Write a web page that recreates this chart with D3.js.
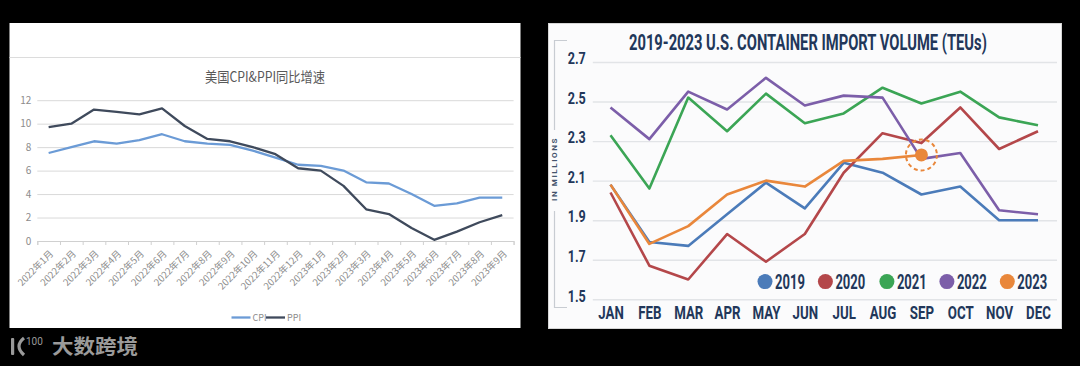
<!DOCTYPE html>
<meta charset="utf-8">
<title>CPI & PPI / Container import volume</title>
<style>
body { margin:0; background:#000; }
svg { display:block; }
.lefttxt { font-family: "Noto Sans CJK SC", "Noto Sans", sans-serif; fill:#8c8c8c; }
.righttxt { font-family: Roboto, "Liberation Sans", sans-serif; font-weight:700; fill:#22375a; }
</style>
<body>
<div id="container"></div>
<script src="https://cdn.jsdelivr.net/npm/d3@7"></script>
<script>
// ---- left chart data ----
var months = ["2022年1月","2022年2月","2022年3月","2022年4月","2022年5月","2022年6月",
  "2022年7月","2022年8月","2022年9月","2022年10月","2022年11月","2022年12月",
  "2023年1月","2023年2月","2023年3月","2023年4月","2023年5月","2023年6月",
  "2023年7月","2023年8月","2023年9月"];
var cpi = [7.5,8.0,8.5,8.3,8.6,9.1,8.5,8.3,8.2,7.7,7.1,6.5,6.4,6.0,5.0,4.9,4.0,3.0,3.2,3.7,3.7];
var ppi = [9.7,10.0,11.2,11.0,10.8,11.3,9.8,8.7,8.5,8.0,7.4,6.2,6.0,4.7,2.7,2.3,1.1,0.1,0.8,1.6,2.2];
var leftTicks = [0,2,4,6,8,10,12];

// ---- right chart data ----
var mon = ["JAN","FEB","MAR","APR","MAY","JUN","JUL","AUG","SEP","OCT","NOV","DEC"];
var years = ["2019","2020","2021","2022","2023"];
var v2019 = [2.08,1.79,1.77,1.93,2.09,1.96,2.19,2.14,2.03,2.07,1.90,1.90];
var v2020 = [2.04,1.67,1.60,1.83,1.69,1.83,2.14,2.34,2.29,2.47,2.26,2.35];
var v2021 = [2.33,2.06,2.52,2.35,2.54,2.39,2.44,2.57,2.49,2.55,2.42,2.38];
var v2022 = [2.47,2.31,2.55,2.46,2.62,2.48,2.53,2.52,2.21,2.24,1.95,1.93];
var v2023 = [2.08,1.78,1.87,2.03,2.10,2.07,2.20,2.21,2.23];
var rightTicks = [1.5,1.7,1.9,2.1,2.3,2.5,2.7];
var yearColors = ["#4b7bb9","#b4474a","#3ba555","#7c5ea9","#e9873b"];

var svg = d3.select("#container").append("svg")
    .attr("width", 1080).attr("height", 366);

// ================= LEFT PANEL =================
var L = svg.append("g");
L.append("rect").attr("x", 9.5).attr("y", 23).attr("width", 511).attr("height", 305).attr("fill", "#fff");
L.append("line").attr("x1", 9.5).attr("x2", 520.5).attr("y1", 57.5).attr("y2", 57.5)
  .attr("stroke", "#dcdcdc").attr("stroke-width", 1);

L.append("text").attr("class", "lefttxt")
  .attr("x", 265).attr("y", 81.5).attr("text-anchor", "middle")
  .attr("font-size", 14).style("fill", "#595959")
  .attr("textLength", 120).attr("lengthAdjust", "spacingAndGlyphs")
  .text("美国CPI&PPI同比增速");

var lx = d3.scaleBand().domain(months).range([37.3, 513.6]);
var ly = d3.scaleLinear().domain([0, 12]).range([241, 100.2]);

// gridlines + y labels
var lyAxis = L.append("g").attr("transform", "translate(37.3,0)")
  .call(d3.axisLeft(ly).tickValues(leftTicks).tickSize(-(513.6 - 37.3)).tickPadding(6));
lyAxis.select(".domain").remove();
lyAxis.selectAll("line").attr("stroke", "#d9d9d9");
lyAxis.selectAll("text").attr("class", "lefttxt").attr("font-size", 10).style("fill", "#8c8c8c");

// x axis: boundary ticks
var lidx = d3.scaleLinear().domain([0, months.length]).range([37.3, 513.6]);
var lxTicks = L.append("g").attr("transform", "translate(0,241)")
  .call(d3.axisBottom(lidx).tickValues(d3.range(months.length + 1)).tickSize(4).tickFormat(""));
lxTicks.selectAll("line,path").attr("stroke", "#d0d0d0");

var lxAxis = L.append("g").attr("transform", "translate(0,241)")
  .call(d3.axisBottom(lx).tickSize(0));
lxAxis.select(".domain").remove();
lxAxis.selectAll("text")
  .attr("class", "lefttxt").attr("font-size", 9.5).style("fill", "#8c8c8c")
  .attr("text-anchor", "end").attr("x", 0).attr("y", 0).attr("dy", "0.35em")
  .attr("transform", "translate(3,11) rotate(-45)");

var lline = d3.line().x(function(d, i) { return lx(months[i]) + lx.bandwidth() / 2; }).y(function(d) { return ly(d); });
L.append("path").datum(cpi).attr("d", lline).attr("fill", "none")
  .attr("stroke", "#6b9bd6").attr("stroke-width", 2.3).attr("stroke-linejoin", "round");
L.append("path").datum(ppi).attr("d", lline).attr("fill", "none")
  .attr("stroke", "#3f4a5c").attr("stroke-width", 2.3).attr("stroke-linejoin", "round");

// legend
var lleg = [{name: "CPI", c: "#6b9bd6", x: 231.5}, {name: "PPI", c: "#3f4a5c", x: 266}];
lleg.forEach(function(d) {
  L.append("line").attr("x1", d.x).attr("x2", d.x + 19).attr("y1", 317.5).attr("y2", 317.5)
    .attr("stroke", d.c).attr("stroke-width", 2.3);
  L.append("text").attr("class", "lefttxt").attr("x", d.x + 21).attr("y", 321)
    .attr("font-size", 9).style("fill", "#8c8c8c").text(d.name);
});

// watermark
var W = svg.append("g").attr("fill", "#9a9a9a");
W.append("rect").attr("x", 11).attr("y", 338).attr("width", 3.2).attr("height", 17).attr("rx", 1);
W.append("path").attr("d", "M24,338 Q14,346 24,355").attr("fill", "none").attr("stroke", "#9a9a9a").attr("stroke-width", 3.2);
W.append("text").attr("x", 26).attr("y", 345).attr("font-size", 10).attr("font-family", "Roboto, sans-serif")
  .attr("fill", "#9a9a9a").text("100");
W.append("text").attr("x", 52).attr("y", 354).attr("font-size", 20).attr("font-weight", 700)
  .attr("font-family", "'Noto Sans CJK SC', sans-serif").attr("fill", "#9a9a9a")
  .attr("textLength", 86).attr("lengthAdjust", "spacingAndGlyphs").text("大数跨境");

// ================= RIGHT PANEL =================
var R = svg.append("g");
R.append("rect").attr("x", 548.5).attr("y", 23.5).attr("width", 513).attr("height", 305)
  .attr("fill", "#fbfbfc").attr("stroke", "#d6d6d6").attr("stroke-width", 1);

function squeeze(sel, sx) {
  sel.each(function() {
    var t = d3.select(this);
    var x = +t.attr("x") || 0;
    t.attr("x", x / sx).attr("transform", "scale(" + sx + ",1)");
  });
}

// title, squeezed to fit the condensed look
var title = R.append("text").attr("class", "righttxt")
  .attr("y", 50.5).attr("font-size", 22)
  .text("2019-2023 U.S. CONTAINER IMPORT VOLUME (TEUs)");
var tw = title.node().getComputedTextLength();
var tsx = 358 / tw;
title.attr("x", (808 - 179) / tsx).attr("transform", "scale(" + tsx + ",1)");

var rx = d3.scalePoint().domain(mon).range([610.5, 1038]);
var ry = d3.scaleLinear().domain([1.5, 2.7]).range([299.3, 62]);

// bracket + axis title
R.append("path").attr("d", "M567,40.5 H554.5 V130 M554.5,211 V307.5 H567")
  .attr("fill", "none").attr("stroke", "#c8ccd2").attr("stroke-width", 1.2);
R.append("text").attr("class", "righttxt")
  .attr("transform", "translate(557,169) rotate(-90)").attr("text-anchor", "middle")
  .attr("font-size", 8).attr("letter-spacing", 1.6).style("fill", "#44546c")
  .text("IN MILLIONS");

var ryAxis = R.append("g").attr("transform", "translate(592.8,0)")
  .call(d3.axisLeft(ry).tickValues(rightTicks).tickSize(-(1057 - 592.8)).tickPadding(7).tickFormat(d3.format(".1f")));
ryAxis.select(".domain").remove();
ryAxis.selectAll("line").attr("stroke", "#e2e4e7").attr("stroke-width", 1.4);
ryAxis.selectAll("text").attr("class", "righttxt").attr("font-size", 17).attr("dy", "0.1em");
squeeze(ryAxis.selectAll("text"), 0.74);

var rxAxis = R.append("g").attr("transform", "translate(0,305)")
  .call(d3.axisBottom(rx).tickSize(0).tickPadding(0));
rxAxis.select(".domain").remove();
rxAxis.selectAll("text").attr("class", "righttxt").attr("font-size", 19).attr("dy", "0.75em");
squeeze(rxAxis.selectAll("text"), 0.7);

var series = [v2019, v2020, v2021, v2022, v2023];
var rline = d3.line().x(function(d, i) { return rx(mon[i]); }).y(function(d) { return ry(d); });
series.forEach(function(s, k) {
  R.append("path").datum(s).attr("d", rline).attr("fill", "none")
    .attr("stroke", yearColors[k]).attr("stroke-width", 2.6).attr("stroke-linejoin", "round");
});

// 2023 latest point highlight
var last = v2023.length - 1;
R.append("circle").attr("cx", rx(mon[last])).attr("cy", ry(v2023[last])).attr("r", 15.5)
  .attr("fill", "none").attr("stroke", "#e9873b").attr("stroke-width", 2)
  .attr("stroke-dasharray", "4,3");
R.append("circle").attr("cx", rx(mon[last])).attr("cy", ry(v2023[last])).attr("r", 6.5)
  .attr("fill", "#e9873b");

// legend
var legX = [765, 825.4, 886.9, 946.9, 1007.3];
years.forEach(function(y, k) {
  R.append("circle").attr("cx", legX[k]).attr("cy", 281.6).attr("r", 7.5).attr("fill", yearColors[k]);
  var t = R.append("text").attr("class", "righttxt").attr("x", legX[k] + 10).attr("y", 289)
    .attr("font-size", 21).text(y);
  squeeze(t, 0.62);
});
</script>
</body>
